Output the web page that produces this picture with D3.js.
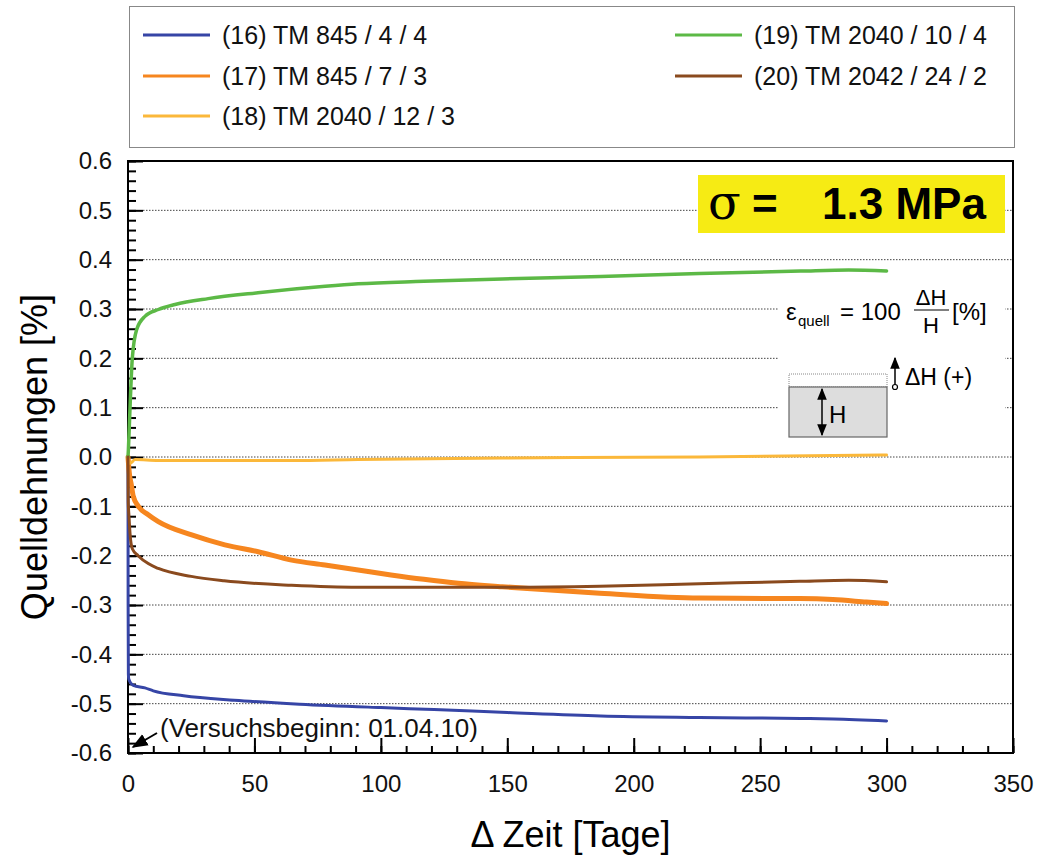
<!DOCTYPE html>
<meta charset="utf-8">
<style>
body { margin: 0; background: #fff; }
svg { font-family: "Liberation Sans", Arial, sans-serif; }
.tick line { stroke: #000; stroke-width: 2px; }
.tick text { font-size: 24px; fill: #111; }
.grid line { stroke: #444; stroke-width: 1px; stroke-dasharray: 1.5,1.5; }
.serie { fill: none; stroke-linejoin: round; stroke-linecap: round; }
</style>
<svg width="1045" height="863"></svg>
<script src="https://cdnjs.cloudflare.com/ajax/libs/d3/7.8.5/d3.min.js"></script>
<script>

// values: [Tage, Quelldehnung %]
var s16 = [[0,0],[0.05,-0.3],[0.15,-0.44],[0.3,-0.45],[2.1,-0.463],[6.7,-0.468],[10,-0.474],[22,-0.484],[42,-0.493],[68,-0.501],[100,-0.508],[121,-0.512],[150,-0.518],[187,-0.525],[226,-0.528],[266,-0.53],[279,-0.531],[300,-0.535]];
var s17 = [[0,0],[0.3,-0.02],[0.7,-0.04],[1.2,-0.053],[2.1,-0.08],[4.1,-0.1],[8,-0.117],[12,-0.131],[25.2,-0.158],[38.3,-0.178],[51.5,-0.192],[64.7,-0.209],[77.9,-0.219],[91,-0.229],[104,-0.239],[117,-0.248],[130.6,-0.256],[148,-0.263],[186.6,-0.276],[226,-0.286],[265.6,-0.287],[278.8,-0.289],[292,-0.294],[300,-0.297]];
var s18 = [[0,0],[0.8,-0.013],[2.8,-0.005],[12,-0.007],[65,-0.007],[91,-0.005],[148,-0.002],[226,0.0],[300,0.004]];
var s19 = [[0,0],[0.15,0.014],[0.8,0.1],[1.7,0.2],[3.4,0.258],[6.7,0.285],[12,0.299],[18.6,0.309],[31.7,0.321],[51.4,0.333],[78,0.346],[91,0.351],[117,0.356],[148,0.361],[187,0.366],[226,0.372],[266,0.377],[285,0.379],[300,0.377]];
var s20 = [[0,0],[0.1,-0.09],[0.4,-0.121],[0.8,-0.155],[1.7,-0.186],[4,-0.2],[8,-0.216],[12,-0.226],[25,-0.242],[38,-0.251],[64.7,-0.26],[91,-0.264],[117,-0.264],[148,-0.264],[186.6,-0.262],[226,-0.257],[265.6,-0.252],[285,-0.25],[300,-0.253]];

var names = ["(16) TM 845 / 4 / 4", "(17) TM 845 / 7 / 3", "(18) TM 2040 / 12 / 3", "(19) TM 2040 / 10 / 4", "(20) TM 2042 / 24 / 2"];
var colors = ["#3645a6", "#f6861f", "#fbb83a", "#5cb946", "#8a4a1e"];
var widths = [3, 5, 3, 3.5, 3];
var series = [s16, s17, s18, s19, s20];

var xTicks = [0, 50, 100, 150, 200, 250, 300, 350];
var yTicks = [-0.6, -0.5, -0.4, -0.3, -0.2, -0.1, 0, 0.1, 0.2, 0.3, 0.4, 0.5, 0.6];

var svg = d3.select("svg");
var pLeft = 128, pRight = 1013, pTop = 161, pBottom = 753;

var x = d3.scaleLinear().domain([0, 350]).range([pLeft, pRight]);
var y = d3.scaleLinear().domain([-0.6, 0.6]).range([pBottom, pTop]);

// grid lines (dotted)
svg.append("g").attr("class", "grid")
  .selectAll("line")
  .data(yTicks.slice(1, -1))
  .enter().append("line")
  .attr("x1", pLeft + 15).attr("x2", pRight)
  .attr("y1", function(d){ return y(d); })
  .attr("y2", function(d){ return y(d); });

// white area behind the formula and sketch
svg.append("rect").attr("x", 778).attr("y", 284).attr("width", 227).attr("height", 157).attr("fill", "#fff");

// axes
var yMinor = d3.range(-0.6, 0.6001, 0.02);
svg.append("g").attr("transform", "translate(" + pLeft + ",0)")
  .call(d3.axisLeft(y).tickValues(yMinor).tickSize(-8).tickFormat(""))
  .call(function(g){ g.select(".domain").remove(); });
svg.append("g").attr("transform", "translate(" + pLeft + ",0)")
  .call(d3.axisLeft(y).tickValues(yTicks).tickSize(-15).tickPadding(16)
    .tickFormat(function(d){ return d3.format(".1f")(d).replace("\u2212", "-"); }))
  .call(function(g){ g.select(".domain").remove(); });

var xMinor = d3.range(0, 351, 10);
svg.append("g").attr("transform", "translate(0," + pBottom + ")")
  .call(d3.axisBottom(x).tickValues(xMinor).tickSize(-7).tickFormat(""))
  .call(function(g){ g.select(".domain").remove(); });
svg.append("g").attr("transform", "translate(0," + pBottom + ")")
  .call(d3.axisBottom(x).tickValues(xTicks).tickSize(-15).tickPadding(22))
  .call(function(g){ g.select(".domain").remove(); });

// frame
svg.append("rect").attr("x", pLeft).attr("y", pTop)
  .attr("width", pRight - pLeft).attr("height", pBottom - pTop)
  .attr("fill", "none").attr("stroke", "#000").attr("stroke-width", 2);

// series (on top of the axis, like the original)
var line = d3.line()
  .x(function(d){ return x(d[0]); })
  .y(function(d){ return y(d[1]); })
  .curve(d3.curveMonotoneX);

var order = [0, 1, 2, 3, 4];
order.forEach(function(i){
  svg.append("path").attr("class", "serie")
    .attr("d", line(series[i]))
    .attr("stroke", colors[i])
    .attr("stroke-width", widths[i]);
});

// axis titles
svg.append("text").attr("x", (pLeft + pRight) / 2).attr("y", 847)
  .attr("text-anchor", "middle").attr("font-size", 36).text("\u0394 Zeit [Tage]");
svg.append("text").attr("transform", "translate(47,457) rotate(-90)")
  .attr("text-anchor", "middle").attr("font-size", 36).text("Quelldehnungen [%]");

// legend
svg.append("rect").attr("x", 129.5).attr("y", 6.5).attr("width", 885).attr("height", 141)
  .attr("fill", "#fff").attr("stroke", "#888").attr("stroke-width", 1);
var legPos = [[143, 35], [143, 76], [143, 116], [675, 35], [675, 76]];
names.forEach(function(n, i){
  var p = legPos[i];
  svg.append("line").attr("x1", p[0]).attr("x2", p[0] + 67)
    .attr("y1", p[1]).attr("y2", p[1])
    .attr("stroke", colors[i]).attr("stroke-width", 3);
  svg.append("text").attr("x", p[0] + 79).attr("y", p[1] + 9)
    .attr("font-size", 25).attr("fill", "#111").text(n);
});

// sigma box
svg.append("rect").attr("x", 698).attr("y", 175).attr("width", 307).attr("height", 58).attr("fill", "#f6eb14");
var sig = svg.append("text").attr("x", 708).attr("y", 219).attr("font-size", 44).attr("fill", "#000");
sig.append("tspan").attr("font-family", "DejaVu Serif, serif").attr("font-size", 48).text("\u03c3");
sig.append("tspan").attr("font-weight", "bold").attr("x", 752).text("=");
sig.append("tspan").attr("font-weight", "bold").attr("x", 822).text("1.3 MPa");

// formula
svg.append("text").attr("x", 786).attr("y", 320).attr("font-size", 24).text("\u03b5");
svg.append("text").attr("x", 798).attr("y", 326).attr("font-size", 15).text("quell");
svg.append("text").attr("x", 840).attr("y", 320).attr("font-size", 24).text("= 100");
svg.append("text").attr("x", 931).attr("y", 305).attr("font-size", 22).attr("text-anchor", "middle").text("\u0394H");
svg.append("line").attr("x1", 914).attr("x2", 949).attr("y1", 310).attr("y2", 310).attr("stroke", "#000").attr("stroke-width", 1.2);
svg.append("text").attr("x", 931).attr("y", 333).attr("font-size", 22).attr("text-anchor", "middle").text("H");
svg.append("text").attr("x", 952).attr("y", 320).attr("font-size", 24).text("[%]");

// sketch
var defs = svg.append("defs");
defs.append("marker").attr("id", "ah").attr("viewBox", "0 0 10 10").attr("refX", 9).attr("refY", 5)
  .attr("markerWidth", 8).attr("markerHeight", 8).attr("orient", "auto-start-reverse")
  .append("path").attr("d", "M0,1 L10,5 L0,9 z").attr("fill", "#000");
svg.append("rect").attr("x", 789).attr("y", 374).attr("width", 98).attr("height", 13)
  .attr("fill", "none").attr("stroke", "#888").attr("stroke-width", 1).attr("stroke-dasharray", "1,1");
svg.append("rect").attr("x", 789).attr("y", 387).attr("width", 98).attr("height", 50)
  .attr("fill", "#dddddd").attr("stroke", "#666").attr("stroke-width", 1.2);
svg.append("line").attr("x1", 822).attr("x2", 822).attr("y1", 389).attr("y2", 435)
  .attr("stroke", "#000").attr("stroke-width", 1.5)
  .attr("marker-start", "url(#ah)").attr("marker-end", "url(#ah)");
svg.append("text").attr("x", 829).attr("y", 423).attr("font-size", 24).text("H");
svg.append("line").attr("x1", 895).attr("x2", 895).attr("y1", 385).attr("y2", 358)
  .attr("stroke", "#000").attr("stroke-width", 1.5).attr("marker-end", "url(#ah)");
svg.append("circle").attr("cx", 895).attr("cy", 387).attr("r", 2.5)
  .attr("fill", "#fff").attr("stroke", "#000").attr("stroke-width", 1.2);
svg.append("text").attr("x", 905).attr("y", 385).attr("font-size", 23).text("\u0394H (+)");

// start note
svg.append("line").attr("x1", 157).attr("y1", 733).attr("x2", 133).attr("y2", 747)
  .attr("stroke", "#000").attr("stroke-width", 2).attr("marker-end", "url(#ah)");
svg.append("text").attr("x", 160).attr("y", 737).attr("font-size", 26).attr("fill", "#111")
  .text("(Versuchsbeginn: 01.04.10)");

</script>
